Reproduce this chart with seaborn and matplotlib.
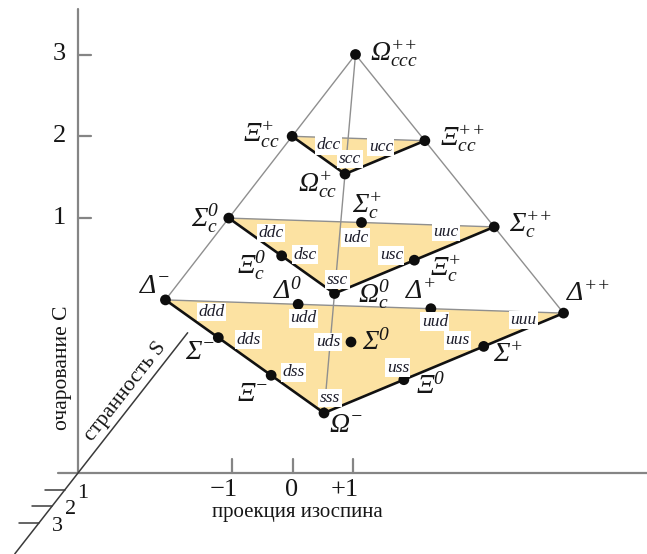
import matplotlib
matplotlib.use("Agg")
import matplotlib.pyplot as plt
import numpy as np
import pandas as pd
import seaborn as sns

# ---- baryon 20-plet (J = 3/2): isospin projection I3, strangeness S, charm C ----
labels = [r"$\Delta^{-}$", r"$\Delta^{0}$", r"$\Delta^{+}$", r"$\Delta^{{+}{+}}$",
          r"$\Sigma^{-}$", r"$\Sigma^{0}$", r"$\Sigma^{+}$",
          r"$\Xi^{-}$", r"$\Xi^{0}$", r"$\Omega^{-}$",
          r"$\Sigma_c^{0}$", r"$\Sigma_c^{+}$", r"$\Sigma_c^{{+}{+}}$",
          r"$\Xi_c^{0}$", r"$\Xi_c^{+}$", r"$\Omega_c^{0}$",
          r"$\Xi_{cc}^{+}$", r"$\Xi_{cc}^{{+}{+}}$", r"$\Omega_{cc}^{+}$",
          r"$\Omega_{ccc}^{{+}{+}}$"]
isospin = [-1.5, -0.5, 0.5, 1.5, -1, 0, 1, -0.5, 0.5, 0,
           -1, 0, 1, -0.5, 0.5, 0,
           -0.5, 0.5, 0,
           0]
strangeness = [0, 0, 0, 0, -1, -1, -1, -2, -2, -3,
               0, 0, 0, -1, -1, -2,
               0, 0, -1,
               0]
charm = [0, 0, 0, 0, 0, 0, 0, 0, 0, 0,
         1, 1, 1, 1, 1, 1,
         2, 2, 2,
         3]
quarks = ["ddd", "udd", "uud", "uuu", "dds", "uds", "uus", "dss", "uss", "sss",
          "ddc", "udc", "uuc", "dsc", "usc", "ssc",
          "dcc", "ucc", "scc",
          "ccc"]

# axis tick values
c_ticks = [1, 2, 3]
s_ticks = [1, 2, 3]
i3_ticks = [-1, 0, 1]
i3_tick_labels = ["\u22121", "0", "+1"]

# ---- layout (pixels, y downwards) ----
W, H = 647, 554
ORIGIN = np.array([364.5, 306.5])          # I3 = S = C = 0
E_I3 = np.array([132.7, 4.4])
E_S = np.array([13.5, -35.5])
E_C = np.array([-3.0, -84.0])

AX0 = np.array([78.0, 473.0])              # corner of the reference axes
I3_UNIT, I3_ZERO = 60.5, 292.5
S_STEP = np.array([-12.9, 16.5])

name_off = [(-11, -13), (-11, -13), (-10, -16), (24, -19),
            (-18, 15), (25, 0), (24, 9),
            (-19, 19), (27, 7), (22, 13),
            (-24, 0), (6, -17), (36, -2),
            (-30, 10), (31, 8), (39, 1),
            (-31, -2), (37, -2), (-27, 11),
            (38, -1)]
quark_off = [(46, 12), (5, 14), (4, 13), (-40, 7),
             (30, 2), (-23, 0), (-26, -6),
             (22, -3), (-6, -12), (6, -15),
             (42, 15), (-6, 15), (-48, 5),
             (23, -1), (-23, -5), (3, -14),
             (36, 9), (-44, 6), (5, -15),
             None]

FILL = "#FCE2A2"
THIN = "#8f8f8f"
AXIS = "#858585"
INK = "#161616"

sns.set_style("white")
plt.rcParams["font.family"] = ["Liberation Serif", "DejaVu Serif"]
plt.rcParams["mathtext.fontset"] = "custom"
plt.rcParams["mathtext.rm"] = "Liberation Serif:italic"
plt.rcParams["mathtext.it"] = "Liberation Serif:italic"
plt.rcParams["mathtext.bf"] = "Liberation Serif:bold:italic"

df = pd.DataFrame({"label": labels, "I3": isospin, "S": strangeness,
                   "C": charm, "q": quarks})
xy = (ORIGIN[None, :] + df[["I3"]].values * E_I3 + df[["S"]].values * E_S
      + df[["C"]].values * E_C)
df["px"], df["py"] = xy[:, 0], xy[:, 1]

fig = plt.figure(figsize=(W / 100, H / 100), dpi=100)
ax = fig.add_axes([0, 0, 1, 1])


def point(i3, s, c):
    return ORIGIN + i3 * E_I3 + s * E_S + c * E_C


def corners(layer):
    sub = df[df["C"] == layer]
    top = sub[sub["S"] == 0]
    left = top.loc[top["I3"].idxmin(), ["px", "py"]].values.astype(float)
    right = top.loc[top["I3"].idxmax(), ["px", "py"]].values.astype(float)
    bottom = sub.loc[sub["S"].idxmin(), ["px", "py"]].values.astype(float)
    return left, right, bottom


# ---- reference axes ----
ax.plot([AX0[0], AX0[0]], [9, AX0[1]], color=AXIS, lw=1.6, zorder=1)
ax.plot([58, W], [AX0[1], AX0[1]], color=AXIS, lw=1.6, zorder=1)
for c in c_ticks:
    yc = point(-(3 - c) / 2, 0, c)[1]
    ax.plot([AX0[0], AX0[0] + 13], [yc, yc], color=AXIS, lw=1.6, zorder=1)
    ax.text(AX0[0] - 19, yc, str(c), fontsize=19, ha="center", va="center",
            color=INK)
for v, t in zip(i3_ticks, i3_tick_labels):
    xv = I3_ZERO + v * I3_UNIT
    ax.plot([xv, xv], [AX0[1], AX0[1] - 14], color=AXIS, lw=1.6, zorder=1)
    ax.text(xv + 6, AX0[1] + 17, t, fontsize=19, ha="right", va="center",
            color=INK)
ax.text(297, 513, "проекция изоспина", fontsize=15, ha="center",
        va="center", color=INK)
ax.text(62, 368, "очарование C", fontsize=15.5, rotation=90, ha="center",
        va="center", color=INK)

# strangeness axis drawn obliquely
s_lo = AX0 + 4.9 * S_STEP
s_hi = AX0 - 8.5 * S_STEP
ax.plot([s_lo[0], s_hi[0]], [s_lo[1], s_hi[1]], color="#3a3a3a", lw=1.1,
        zorder=1)
for s in s_ticks:
    p = AX0 + s * S_STEP
    ax.plot([p[0] - 20, p[0]], [p[1], p[1]], color="#3a3a3a", lw=1.1)
    ax.text(p[0] + 18, p[1] + 4, str(s), fontsize=16, ha="center",
            va="center", color=INK)
ang = np.degrees(np.arctan2(S_STEP[1], -S_STEP[0]))
ax.text(126, 392, "странность S", fontsize=15.5, rotation=ang,
        rotation_mode="anchor", ha="center", va="center", color=INK)

# ---- layers of the tetrahedron ----
for layer in [0, 1, 2]:
    left, right, bottom = corners(layer)
    tri = np.array([left, bottom, right])
    ax.fill(tri[:, 0], tri[:, 1], color=FILL, lw=0, zorder=2)
    ax.plot([left[0], right[0]], [left[1], right[1]], color=THIN, lw=1.0,
            zorder=3)
    ax.plot([left[0], bottom[0], right[0]], [left[1], bottom[1], right[1]],
            color="#111111", lw=1.9, zorder=4, solid_joinstyle="miter")

apex = df.loc[df["C"] == 3, ["px", "py"]].values[0].astype(float)
for corner in corners(0):
    ax.plot([apex[0], corner[0]], [apex[1], corner[1]], color=THIN, lw=1.0,
            zorder=3)

sns.scatterplot(data=df, x="px", y="py", ax=ax, color="#0d0d0d", s=60,
                edgecolor="none", legend=False, zorder=6)
ax.set_xlim(0, W)
ax.set_ylim(H, 0)
ax.axis("off")

for i, row in df.iterrows():
    dx, dy = name_off[i]
    ax.annotate(row["label"], (row["px"], row["py"]), xytext=(dx, -dy),
                textcoords="offset pixels", fontsize=20, ha="center",
                va="center", color=INK, zorder=7)
    if quark_off[i] is not None:
        qx, qy = quark_off[i]
        ax.annotate(row["q"], (row["px"], row["py"]), xytext=(qx, -qy),
                    textcoords="offset pixels", fontsize=12.5,
                    fontstyle="italic", ha="center", va="center",
                    color="#1c1c2a", zorder=7,
                    bbox=dict(boxstyle="square,pad=0.08", fc="white",
                              ec="none"))

fig.savefig("out.png", dpi=100)
